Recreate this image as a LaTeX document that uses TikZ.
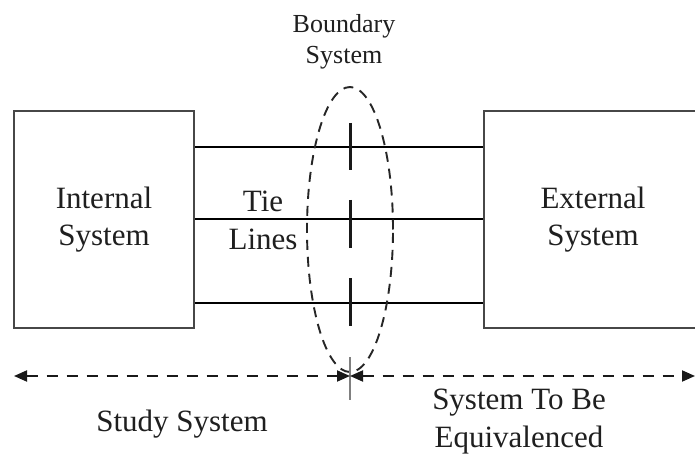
\documentclass[tikz,border=0pt]{standalone}
\usepackage{fontspec}
\setmainfont{Liberation Serif}
\usetikzlibrary{arrows.meta,shapes.geometric}
\begin{document}
\begin{tikzpicture}[x=1pt,y=-1pt,
  box/.style={draw=black!72, line width=2pt, inner sep=0pt, align=center,
    font=\fontsize{31}{37.2}\selectfont, text=black!88},
  lbl/.style={inner sep=0pt, align=center, font=\fontsize{31}{37.2}\selectfont, text=black!88},
  small/.style={inner sep=0pt, align=center, font=\fontsize{26}{31.2}\selectfont, text=black!88},
  tie/.style={line width=1.5pt, black},
  barline/.style={line width=3pt, black!90},
  bnd/.style={draw=black!85, ellipse, dash pattern=on 10pt off 7pt, line width=1.9pt, inner sep=0pt},
  darr/.style={line width=1.9pt, draw=black!90, dash pattern=on 11pt off 9pt,
    {Triangle[length=13pt,width=11pt]}-{Triangle[length=13pt,width=11pt]}}
]
\useasboundingbox (0,0) rectangle (695,454);
\fill[white] (0,0) rectangle (695,454);

% boxes
\node[box, minimum width=180pt, minimum height=216pt] (int) at (104,219.5) {Internal\\System};
\node[box, minimum width=218pt, minimum height=216pt] (ext) at (593,219.5) {External\\System};

% tie lines
\coordinate (t1) at (0,147);
\coordinate (t2) at (0,219);
\coordinate (t3) at (0,303);
\draw[tie] (int.east |- t1) -- (ext.west |- t1);
\draw[tie] (int.east |- t2) -- (ext.west |- t2);
\draw[tie] (int.east |- t3) -- (ext.west |- t3);

% boundary ellipse
\node[bnd, minimum width=86pt, minimum height=285pt] (b) at (350,229.5) {};

% short bars at the boundary
\draw[barline] (350,123) -- (350,170);
\draw[barline] (350,200) -- (350,248);
\draw[barline] (350,278) -- (350,326);

% labels
\node[lbl] (tie) at (263,220.3) {Tie\\Lines};
\node[small] (btxt) at (344,41.5) {Boundary\\System};

% dashed extent arrows
\coordinate (mid) at (350,376);
\coordinate (lend) at (14,376);
\coordinate (rend) at (695,376);
\draw[gray, line width=1.8pt] (350,357) -- (350,400);
\draw[darr] (lend) -- (mid);
\draw[darr] (mid) -- (rend);

\node[lbl, anchor=base] (study) at (182,431) {Study System};
\node[lbl] (equiv) at (519,421.5) {System To Be\\Equivalenced};
\end{tikzpicture}
\end{document}
